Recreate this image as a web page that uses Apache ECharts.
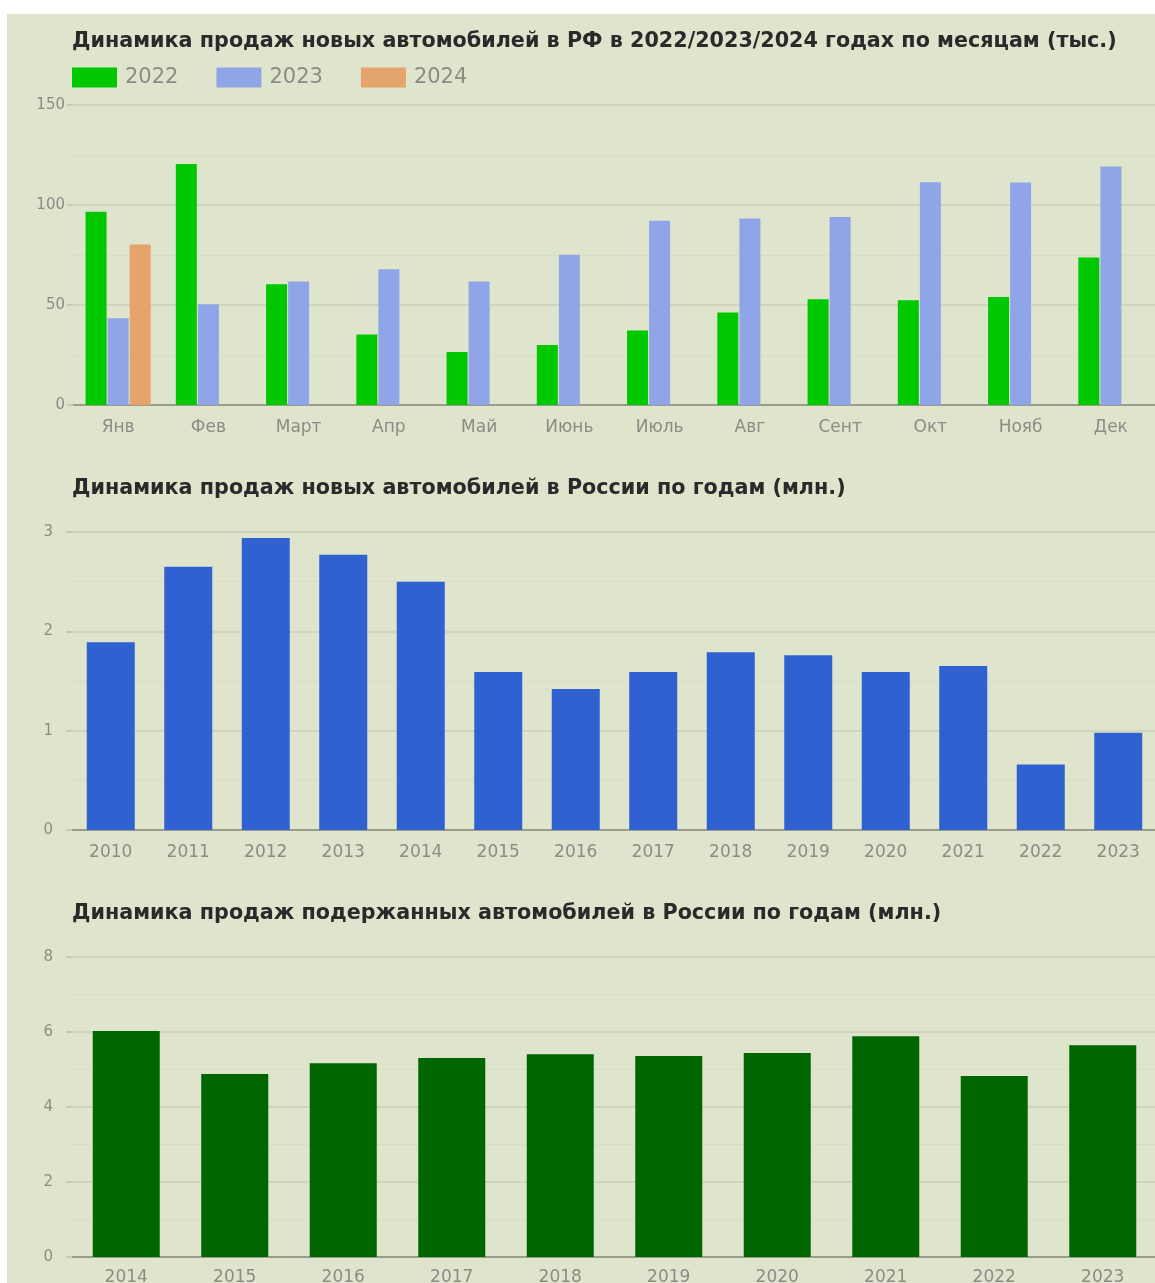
<!DOCTYPE html>
<html>
<head>
<meta charset="utf-8">
<script src="https://cdn.jsdelivr.net/npm/echarts@6/dist/echarts.min.js"></script>
<style>
  html, body { margin: 0; padding: 0; background: #ffffff; }
  #main { position: absolute; left: 7px; top: 14px; width: 1148px; height: 1269px; background: #dfe4cd; }
</style>
</head>
<body>
<div id="main"></div>
<script>
// --- данные ---
const months = ["Янв", "Фев", "Март", "Апр", "Май", "Июнь", "Июль", "Авг", "Сент", "Окт", "Нояб", "Дек"];
const sales2022 = [96.6, 120.5, 60.4, 35.3, 26.5, 30, 37.3, 46.2, 52.9, 52.4, 54, 73.8];
const sales2023 = [43.4, 50.4, 61.7, 67.9, 61.7, 75.1, 92.1, 93.3, 94, 111.4, 111.2, 119.2];
const sales2024 = [80.3, null, null, null, null, null, null, null, null, null, null, null];

const newYears = ["2010", "2011", "2012", "2013", "2014", "2015", "2016", "2017", "2018", "2019", "2020", "2021", "2022", "2023"];
const newSales = [1.89, 2.65, 2.94, 2.77, 2.50, 1.59, 1.42, 1.59, 1.79, 1.76, 1.59, 1.65, 0.66, 0.98];

const usedYears = ["2014", "2015", "2016", "2017", "2018", "2019", "2020", "2021", "2022", "2023"];
const usedSales = [6.03, 4.88, 5.17, 5.31, 5.41, 5.36, 5.44, 5.89, 4.83, 5.65];

const bg = "#dfe4cd";
const gridCol = "#d0d6be";
const minorCol = "#d8ddc6";
const labelCol = "#8c8c84";

function yAx(gridIndex, max, interval, labelMargin) {
  return {
    type: "value", gridIndex: gridIndex, min: 0, max: max, interval: interval,
    axisLine: { show: false },
    axisTick: { show: true, length: 6, lineStyle: { color: "#c4c9b2", width: 2 } },
    axisLabel: { color: labelCol, fontSize: 15, fontFamily: "DejaVu Sans", margin: labelMargin },
    splitLine: { lineStyle: { color: gridCol, width: 2 } },
    minorTick: { show: false, splitNumber: 2 },
    minorSplitLine: { show: true, lineStyle: { color: minorCol, width: 1 } }
  };
}

function xAx(gridIndex, data, margin) {
  return {
    type: "category", gridIndex: gridIndex, data: data,
    axisLine: { lineStyle: { color: "#9a9c8c", width: 2 } },
    axisTick: { show: false },
    axisLabel: { color: labelCol, fontSize: 17, fontFamily: "DejaVu Sans", margin: margin }
  };
}

const titleStyle = { color: "#2a2a2a", fontSize: 20.7, fontWeight: "bold", fontFamily: "DejaVu Sans" };

let myChart = echarts.init(document.getElementById("main"));
myChart.setOption({
  backgroundColor: bg,
  animation: false,
  title: [
    { text: "Динамика продаж новых автомобилей в РФ в 2022/2023/2024 годах по месяцам (тыс.)", left: 65, top: 17, padding: 0, textStyle: titleStyle },
    { text: "Динамика продаж новых автомобилей в России по годам (млн.)", left: 65, top: 464, padding: 0, textStyle: titleStyle },
    { text: "Динамика продаж подержанных автомобилей в России по годам (млн.)", left: 65, top: 889, padding: 0, textStyle: titleStyle }
  ],
  legend: {
    data: ["2022", "2023", "2024"],
    left: 65, top: 53, padding: 0,
    icon: "rect", itemWidth: 45, itemHeight: 20, itemGap: 38,
    textStyle: { color: labelCol, fontSize: 21, fontFamily: "DejaVu Sans", padding: [0, 0, 0, 3] }
  },
  grid: [
    { left: 66, top: 91, width: 1083, height: 300, outerBoundsMode: "none" },
    { left: 65, top: 518, width: 1085, height: 298, outerBoundsMode: "none" },
    { left: 65, top: 943, width: 1085, height: 300, outerBoundsMode: "none" }
  ],
  xAxis: [xAx(0, months, 14), xAx(1, newYears, 14), xAx(2, usedYears, 12)],
  yAxis: [yAx(0, 150, 50, 8), yAx(1, 3, 1, 19), yAx(2, 8, 2, 19)],
  series: [
    { name: "2022", type: "bar", xAxisIndex: 0, yAxisIndex: 0, data: sales2022, barWidth: 21, barGap: "5%", itemStyle: { color: "#00c800" } },
    { name: "2023", type: "bar", xAxisIndex: 0, yAxisIndex: 0, data: sales2023, barWidth: 21, barGap: "5%", itemStyle: { color: "#8fa5e8" } },
    { name: "2024", type: "bar", xAxisIndex: 0, yAxisIndex: 0, data: sales2024, barWidth: 21, barGap: "5%", itemStyle: { color: "#e5a46c" } },
    { name: "Новые", type: "bar", xAxisIndex: 1, yAxisIndex: 1, data: newSales, barWidth: 48, itemStyle: { color: "#2f62d0" } },
    { name: "Подержанные", type: "bar", xAxisIndex: 2, yAxisIndex: 2, data: usedSales, barWidth: 67, itemStyle: { color: "#006600" } }
  ]
});
</script>
</body>
</html>
